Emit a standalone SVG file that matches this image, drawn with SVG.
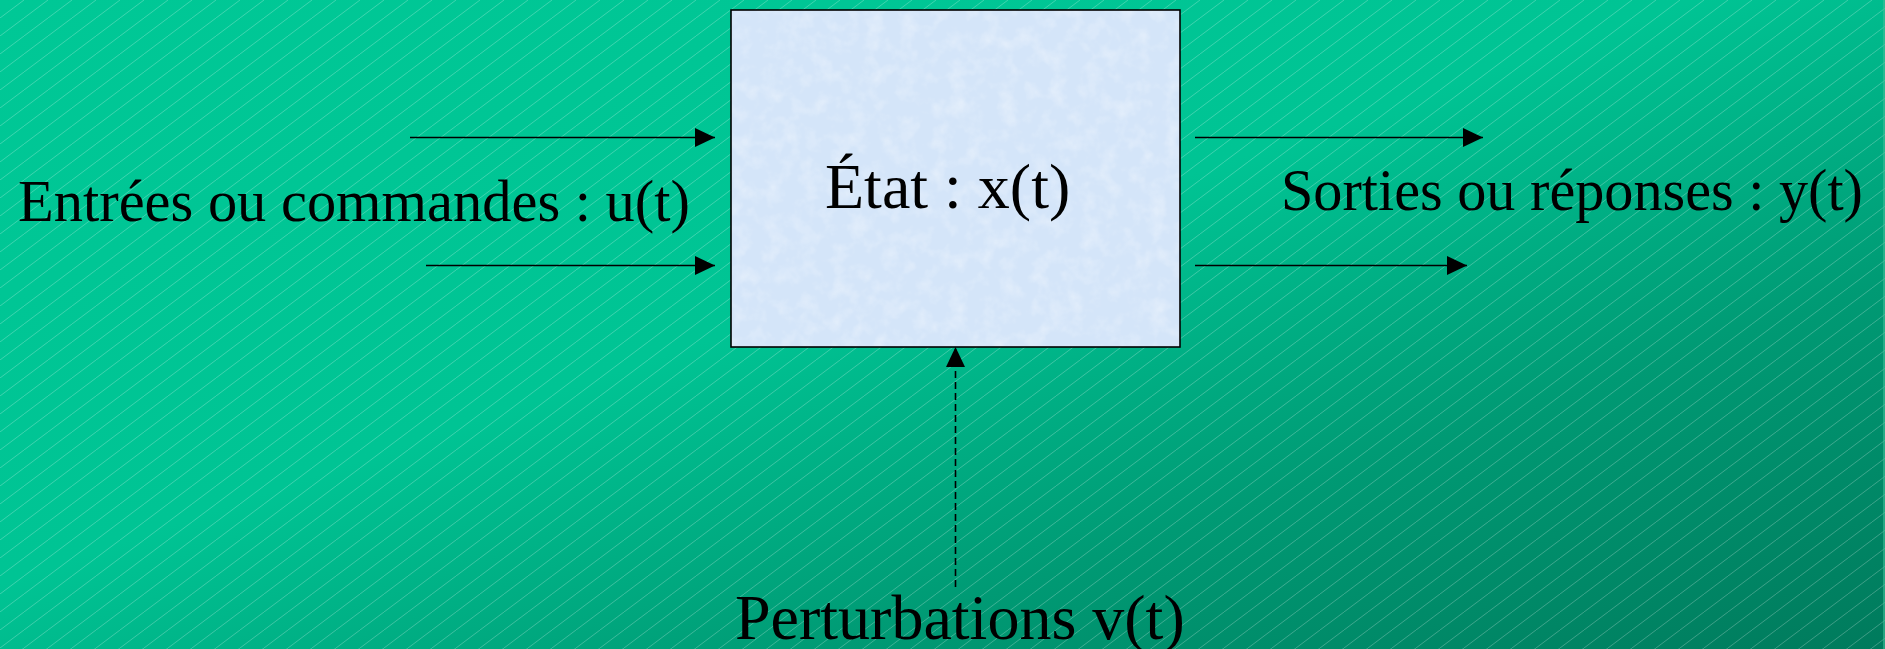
<svg xmlns="http://www.w3.org/2000/svg" width="1885" height="649" viewBox="0 0 1885 649">
  <style>
    .lbl { font-family: "Liberation Serif", "Times New Roman", serif; fill: #000; }
    .conn { stroke: #000; stroke-width: 1.6; fill: none; }
  </style>
  <defs>
    <linearGradient id="bg" x1="0" y1="0" x2="1" y2="1">
      <stop offset="0" stop-color="#00C896"/>
      <stop offset="0.45" stop-color="#00C494"/>
      <stop offset="0.72" stop-color="#009A74"/>
      <stop offset="1" stop-color="#007A5C"/>
    </linearGradient>
    <pattern id="hatch" patternUnits="userSpaceOnUse" width="24" height="18">
      <line x1="-1" y1="18.75" x2="25" y2="-0.75" stroke="#FFFFFF" stroke-opacity="0.3" stroke-width="0.8"/>
    </pattern>
    <filter id="paper" x="0" y="0" width="1" height="1">
      <feTurbulence type="fractalNoise" baseFrequency="0.06" numOctaves="3" seed="4" result="n"/>
      <feColorMatrix in="n" type="matrix" values="0 0 0 0 1  0 0 0 0 1  0 0 0 0 1  0 0 0 1.4 -0.6" result="w"/>
      <feComposite in="w" in2="SourceGraphic" operator="in"/>
    </filter>
    <marker id="arr" markerUnits="userSpaceOnUse" markerWidth="20" markerHeight="19" refX="20" refY="9.5" orient="auto">
      <path d="M0,0 L20,9.5 L0,19 Z" fill="#000"/>
    </marker>
  </defs>

  <rect x="0" y="0" width="1885" height="649" fill="url(#bg)"/>
  <rect x="0" y="0" width="1885" height="649" fill="url(#hatch)"/>
  <rect x="1883" y="0" width="2" height="649" fill="#3FBF9A" opacity="0.6"/>

  <g id="etat">
    <rect x="731" y="10" width="449" height="337" fill="#D4E5F9"/>
    <rect x="731" y="10" width="449" height="337" fill="#D4E5F9" filter="url(#paper)" opacity="0.5"/>
    <rect x="731" y="10" width="449" height="337" fill="none" stroke="#000" stroke-width="1.6"/>
    <text class="lbl" x="825" y="208" font-size="64">État : x(t)</text>
  </g>

  <g id="entrees">
    <text class="lbl" x="18" y="221" font-size="59" textLength="672" lengthAdjust="spacingAndGlyphs">Entrées ou commandes : u(t)</text>
  </g>

  <g id="sorties">
    <text class="lbl" x="1281" y="210" font-size="59" textLength="582" lengthAdjust="spacingAndGlyphs">Sorties ou réponses : y(t)</text>
  </g>

  <g id="perturbations">
    <text class="lbl" x="735" y="639" font-size="64">Perturbations v(t)</text>
  </g>

  <g id="connectors">
    <line class="conn" x1="410" y1="137.5" x2="715" y2="137.5" marker-end="url(#arr)"/>
    <line class="conn" x1="426" y1="265.5" x2="715" y2="265.5" marker-end="url(#arr)"/>
    <line class="conn" x1="1195" y1="137.5" x2="1483" y2="137.5" marker-end="url(#arr)"/>
    <line class="conn" x1="1195" y1="265.5" x2="1467" y2="265.5" marker-end="url(#arr)"/>
    <line class="conn" x1="955.5" y1="587" x2="955.5" y2="347" stroke-dasharray="7 4" marker-end="url(#arr)"/>
  </g>
</svg>
